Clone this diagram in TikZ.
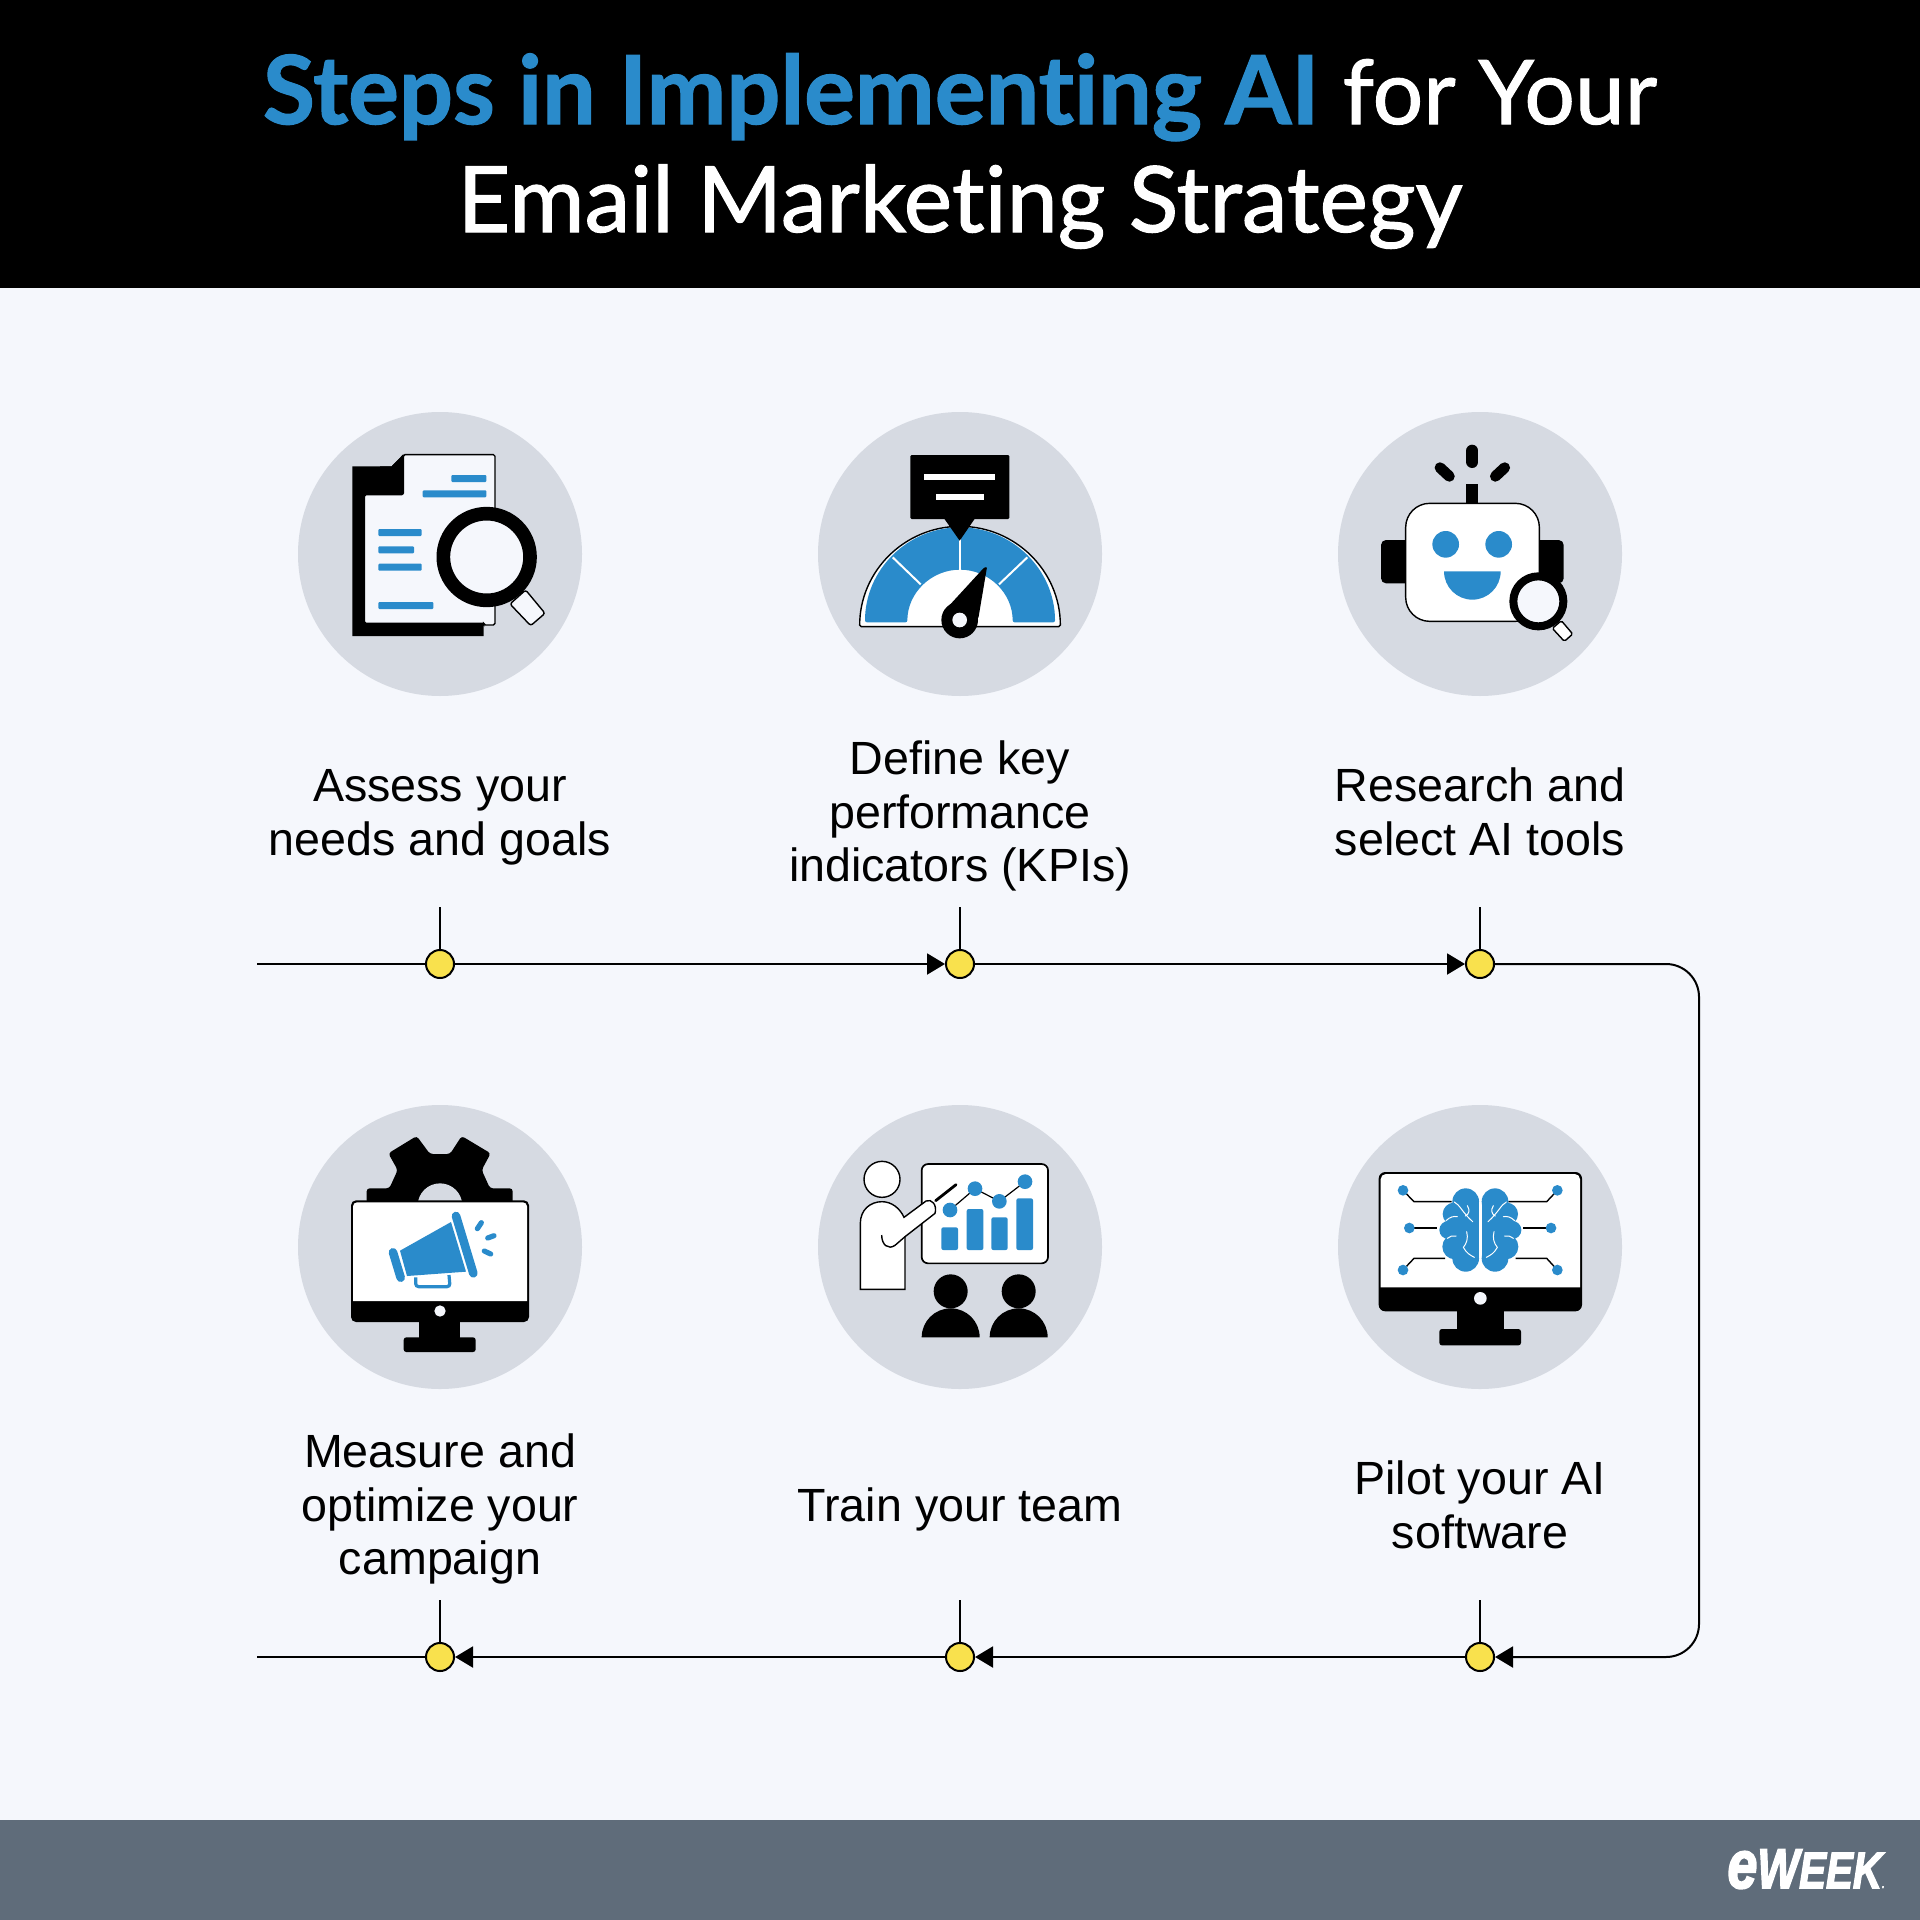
\documentclass[tikz,border=0pt]{standalone}
\usepackage{fontspec}
\usepackage{graphicx}
\usetikzlibrary{arrows.meta}
\setmainfont{Liberation Sans}
\newfontfamily\titlefont{Lato}[FakeBold=1.2,Ligatures=NoCommon]
\newfontfamily\titlebold{Lato Bold}[FakeBold=1.2,Ligatures=NoCommon]
\newfontfamily\logofont{Liberation Sans Bold Italic}[FakeBold=3]
\definecolor{paper}{HTML}{F5F7FC}
\definecolor{disc}{HTML}{D6DAE2}
\definecolor{accent}{HTML}{2A8BCB}
\definecolor{dotyellow}{HTML}{F9E14D}
\definecolor{footer}{HTML}{5F6C7A}
\tikzset{
  local/.style={x=0.16667pt,y=-0.16667pt},
  labeltext/.style={font=\fontsize{23.3}{26.8}\selectfont,align=center,text=black,inner sep=0pt},
  stepdot/.style={circle,draw=black,line width=1pt,fill=dotyellow,minimum size=14pt,inner sep=0pt},
  conn/.style={draw=black,line width=1pt},
  connarrow/.style={conn,-{Triangle[length=9pt,width=10.5pt]}},
  thin ink/.style={draw=black,line width=0.7pt},
  bar/.style={fill=accent,rounded corners=0.5pt},
}
\newcommand{\brainhalf}{%
  \fill[accent] (437,335) circle [radius=40];
  \fill[accent] (402,372) circle [radius=34];
  \fill[accent] (385,420) circle [radius=27];
  \fill[accent] (405,470) circle [radius=38];
  \fill[accent] (437,505) circle [radius=40];
  \fill[accent] (420,335) rectangle (477,505);
  \fill[accent] (395,380) rectangle (450,470);
  \draw[white,line width=0.5pt,line cap=round]
    (403,336) .. controls (420,345) and (425,365) .. (458,395)
    (442,347) .. controls (450,360) and (448,372) .. (436,378)
    (378,392) .. controls (390,380) and (402,378) .. (412,380)
    (382,445) .. controls (390,438) and (398,436) .. (408,438)
    (440,425) .. controls (445,445) and (440,460) .. (430,472)
    (430,472) .. controls (440,490) and (450,495) .. (463,502);
}
\begin{document}
\begin{tikzpicture}[x=0.5pt,y=-0.5pt]
\useasboundingbox (0,0) rectangle (1920,1920);
\fill[paper] (0,0) rectangle (1920,1920);
\fill[black] (0,0) rectangle (1920,288);
\fill[footer] (0,1820) rectangle (1920,1920);

% title
\node[text=white,align=center,inner sep=0pt,font=\titlefont\fontsize{45.8}{54}\selectfont] (title) at (960,151)
  {{\titlebold\fontsize{47.6}{54}\selectfont\color{accent}Steps in Implementing AI} {\fontsize{44.6}{54}\selectfont for Your}\\Email Marketing Strategy};

% discs
\foreach \cx/\cy in {440/554,960/554,1480/554,440/1247,960/1247,1480/1247}
  \fill[disc] (\cx,\cy) circle [radius=142];

% labels
\node[labeltext] (lab1) at (440,817.5) {\strut Assess your\\needs and goals\strut};
\node[labeltext] (lab2) at (960,817.5) {\strut Define key\\performance\\indicators (KPIs)\strut};
\node[labeltext] (lab3) at (1480,817.5) {\strut Research and\\select AI tools\strut};
\node[labeltext] (lab4) at (440,1510.5) {\strut Measure and\\optimize your\\campaign\strut};
\node[labeltext] (lab5) at (960,1510.5) {\strut Train your team\strut};
\node[labeltext] (lab6) at (1480,1510.5) {\strut Pilot your AI\\software\strut};

% timeline
\coordinate (startA) at (257,964);
\coordinate (endB) at (257,1657);
\coordinate (cornerA) at (1699,964);
\coordinate (cornerB) at (1699,1657);
\coordinate (tickA1) at (440,907);
\coordinate (tickA2) at (960,907);
\coordinate (tickA3) at (1480,907);
\coordinate (tickB1) at (440,1600);
\coordinate (tickB2) at (960,1600);
\coordinate (tickB3) at (1480,1600);
\node[stepdot] (d1) at (440,964) {};
\node[stepdot] (d2) at (960,964) {};
\node[stepdot] (d3) at (1480,964) {};
\node[stepdot] (d4) at (1480,1657) {};
\node[stepdot] (d5) at (960,1657) {};
\node[stepdot] (d6) at (440,1657) {};
\draw[conn] (startA) -- (d1);
\draw[connarrow] (d1) -- (d2);
\draw[connarrow] (d2) -- (d3);
\draw[connarrow,rounded corners=16.5pt] (d3) -- (cornerA) -- (cornerB) -- (d4);
\draw[connarrow] (d4) -- (d5);
\draw[connarrow] (d5) -- (d6);
\draw[conn] (d6) -- (endB);
\draw[conn] (tickA1) -- (d1);
\draw[conn] (tickA2) -- (d2);
\draw[conn] (tickA3) -- (d3);
\draw[conn] (tickB1) -- (d6);
\draw[conn] (tickB2) -- (d5);
\draw[conn] (tickB3) -- (d4);

% icon 1: document and magnifier
\begin{scope}[shift={(280,400)},local]
  \fill[black] (217,199) -- (335,199) -- (370,163) -- (370,300) -- (611,300) -- (611,708) -- (217,708) -- cycle;
  \draw[fill=paper,thin ink,rounded corners=0.8pt] (370,164) -- (645,164) -- (645,675) -- (611,675) -- (611,670) -- (253,670) -- (253,284) -- (370,284) -- cycle;
  \fill[black] (335,199) -- (370,163) -- (370,284) -- (300,284) -- (300,199) -- cycle;
  \fill[bar] (514,225) rectangle (619,246);
  \fill[bar] (428,271) rectangle (619,292);
  \fill[bar] (295,387) rectangle (425,408);
  \fill[bar] (295,439) rectangle (402,460);
  \fill[bar] (295,491) rectangle (425,512);
  \fill[bar] (295,606) rectangle (460,627);
  \draw[fill=paper,thin ink,rounded corners=1.2pt] (690,612) -- (737,570) -- (795,640) -- (752,677) -- cycle;
  \draw[fill=paper,draw=black,line width=6.83pt] (620,471) circle [radius=130];
\end{scope}

% icon 2: gauge
\begin{scope}[shift={(800,400)},local]
  \draw[fill=white,thin ink,rounded corners=0.8pt] (179,680) arc [start angle=180,end angle=360,radius=301] -- cycle;
  \fill[accent,rounded corners=1pt] (195,667) arc [start angle=180,end angle=360,radius=285] -- (638,667) arc [start angle=360,end angle=180,radius=158] -- cycle;
  \draw[white,line width=1pt] (480,510) -- (480,385);
  \draw[white,line width=1pt] (362,553) -- (278,472);
  \draw[white,line width=1pt] (597,553) -- (682,472);
  \fill[black,rounded corners=0.6pt] (331,165) rectangle (628,357);
  \fill[black] (432,355) -- (479,422) -- (525,355) -- cycle;
  \fill[white] (373,223) rectangle (586,241);
  \fill[white] (407,281) rectangle (553,300);
  \fill[black,rounded corners=0.5pt] (428,638) -- (552,503) -- (561,501) -- (535,655) -- cycle;
  \fill[black] (479,660) circle [radius=55];
  \fill[paper] (479,660) circle [radius=22];
\end{scope}

% icon 3: robot
\begin{scope}[shift={(1320,400)},local]
  \fill[black,rounded corners=2.5pt] (183,420) rectangle (290,550);
  \fill[black,rounded corners=2.5pt] (620,420) rectangle (731,550);
  \fill[black] (438,253) rectangle (475,315);
  \draw[black,line width=6pt,line cap=round] (457,152) -- (457,186);
  \draw[black,line width=5.4pt,line cap=round] (360,203) -- (388,229);
  \draw[black,line width=5.4pt,line cap=round] (554,203) -- (526,229);
  \draw[fill=white,thin ink,rounded corners=12pt] (257,310) rectangle (658,664);
  \fill[accent] (377,433) circle [radius=40];
  \fill[accent] (536,433) circle [radius=40];
  \fill[accent] (372,514) arc [start angle=180,end angle=0,radius=85] -- cycle;
  \draw[fill=white,thin ink,rounded corners=0.8pt] (697,685) -- (724,662) -- (758,702) -- (733,724) -- cycle;
  \draw[fill=paper,draw=black,line width=4pt] (655,604) circle [radius=75];
\end{scope}

% icon 4: gear, monitor and megaphone
\begin{scope}[shift={(280,1090)},local]
  \fill[black,rounded corners=1.5pt] (260,340) -- (260,295) -- (328,295) -- (353,240) -- (325,190) -- (410,138) -- (450,192) -- (510,192) -- (545,138) -- (632,190) -- (605,240) -- (630,295) -- (698,295) -- (698,340) -- cycle;
  \fill[disc] (480,347) circle [radius=67];
  \fill[black,rounded corners=2.5pt] (213,331) rectangle (747,696);
  \fill[white] (219,633) [rounded corners=2pt] -- (219,337) -- (741,337) [sharp corners] -- (741,633) -- cycle;
  \fill[paper] (480,663) circle [radius=17];
  \fill[black] (418,690) rectangle (541,745);
  \fill[black,rounded corners=1.3pt] (371,742) rectangle (587,786);
  \fill[accent] (360,482) -- (513,396) -- (558,545) -- (381,558) -- cycle;
  \draw[accent,line width=4.3pt,line cap=round] (339,487) -- (362,563);
  \draw[accent,line width=4.3pt,line cap=round] (528,378) -- (580,550);
  \draw[accent,line width=1.6pt,rounded corners=1.5pt] (407,562) -- (407,590) -- (510,590) -- (507,555);
  \draw[accent,line width=2.6pt,line cap=round] (592,416) -- (604,398);
  \draw[accent,line width=2.6pt,line cap=round] (623,444) -- (642,437);
  \draw[accent,line width=2.6pt,line cap=round] (613,483) -- (632,492);
\end{scope}

% icon 5: trainer
\begin{scope}[shift={(800,1090)},local]
  \draw[fill=white,draw=black,line width=0.85pt,rounded corners=3.2pt] (365,222) rectangle (744,520);
  \fill[accent,rounded corners=1pt] (424,412) rectangle (474,480);
  \fill[accent,rounded corners=1pt] (500,357) rectangle (550,480);
  \fill[accent,rounded corners=1pt] (574,382) rectangle (623,480);
  \fill[accent,rounded corners=1pt] (649,325) rectangle (699,480);
  \draw[black,line width=0.6pt] (450,360) -- (525,296) -- (598,334) -- (675,275);
  \fill[accent] (450,360) circle [radius=22];
  \fill[accent] (525,296) circle [radius=22];
  \fill[accent] (598,334) circle [radius=22];
  \fill[accent] (675,275) circle [radius=22];
  \draw[black,line width=1.4pt,line cap=round] (407,332) -- (468,284);
  \draw[fill=white,thin ink] (246,268) circle [radius=54];
  \draw[fill=white,thin ink] (181,598) -- (181,400) .. controls (181,360) and (210,335) .. (246,335) .. controls (275,335) and (300,355) .. (312,382) -- (378,333) .. controls (395,325) and (412,345) .. (405,370) -- (315,440) -- (315,598) -- cycle;
  \draw[thin ink] (315,440) -- (285,466) .. controls (265,480) and (245,465) .. (245,435);
  \fill[black] (452,604) circle [radius=51];
  \fill[black] (656,604) circle [radius=51];
  \fill[black] (365,742) arc [start angle=180,end angle=360,x radius=87,y radius=87] -- cycle;
  \fill[black] (569,742) arc [start angle=180,end angle=360,x radius=87,y radius=87] -- cycle;
\end{scope}

% icon 6: brain on monitor
\begin{scope}[shift={(1320,1090)},local]
  \fill[black,rounded corners=3.3pt] (176,246) rectangle (786,664);
  \fill[white] (182,592) [rounded corners=2.6pt] -- (182,252) -- (780,252) [sharp corners] -- (780,592) -- cycle;
  \fill[paper] (481,625) circle [radius=19];
  \fill[black] (410,655) rectangle (551,720);
  \fill[black,rounded corners=1.3pt] (358,717) rectangle (603,766);
  \draw[black,line width=0.7pt] (249,301) -- (282,335) -- (395,335);
  \draw[black,line width=0.7pt] (268,414) -- (352,414);
  \draw[black,line width=0.7pt] (249,540) -- (282,505) -- (375,505);
  \draw[black,line width=0.7pt] (712,301) -- (680,335) -- (565,335);
  \draw[black,line width=0.7pt] (693,414) -- (609,414);
  \draw[black,line width=0.7pt] (712,540) -- (680,505) -- (587,505);
  \foreach \px/\py in {249/301,268/414,249/540,712/301,693/414,712/540}
    \fill[accent] (\px,\py) circle [radius=16];
  \brainhalf
  \begin{scope}[shift={(962,0)},xscale=-1]
    \brainhalf
  \end{scope}
\end{scope}

% logo
\node[text=white,inner sep=0pt,anchor=base east,font=\logofont\fontsize{25.5}{30}\selectfont] (logo) at (1885,1888)
  {\scalebox{0.79}[1]{{\fontsize{34}{30}\selectfont e}{\fontsize{28}{30}\selectfont W}EEK{\fontsize{6}{8}\selectfont .}}};
\end{tikzpicture}
\end{document}
